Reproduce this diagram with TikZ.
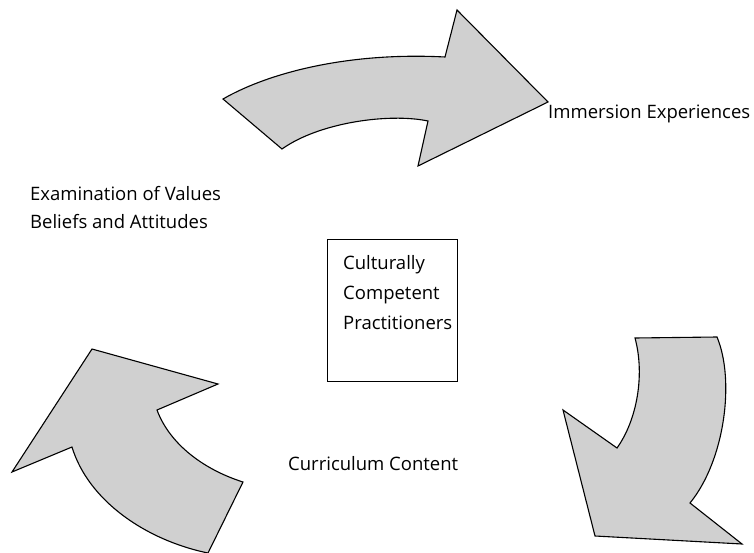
\documentclass[tikz,border=0pt]{standalone}
\usepackage{fontspec}
\setmainfont{Open Sans}
\begin{document}
\begin{tikzpicture}[x=1pt,y=-1pt,
  bend arrow/.style={draw=black, line width=1.1pt, line join=miter, fill={rgb,255:red,208;green,208;blue,208}},
  label text/.style={anchor=west, inner sep=0pt, font=\fontsize{18.5}{30}\selectfont},
  frame box/.style={draw=black, line width=0.8pt, anchor=north west, inner sep=0pt,
    minimum width=130pt, minimum height=142pt}]
\useasboundingbox (0,0) rectangle (754,553);

% curved arrow along the top, pointing right
\draw[bend arrow] (223,99) .. controls (270,72) and (350,52) .. (445,57)
  -- (457,10) -- (548,102) -- (418,166) -- (428,121)
  .. controls (390,113) and (320,122) .. (282,149) -- cycle;

% curved arrow on the right, pointing down
\draw[bend arrow] (635,338) -- (717,337)
  .. controls (735,380) and (725,460) .. (690,503)
  -- (742,544) -- (595,536) -- (563,410) -- (617,448)
  .. controls (637,420) and (645,375) .. (635,338) -- cycle;

% curved arrow on the lower left, pointing up
\draw[bend arrow] (92,349) -- (218,384) -- (157,410)
  .. controls (170,445) and (205,470) .. (243,482)
  -- (208,553)
  .. controls (145,540) and (88,500) .. (72,447)
  -- (12,472) -- cycle;

% labels
\node[label text] (immersion) at (548,114) {Immersion Experiences};
\node[label text] (values) at (30,194) {Examination of Values};
\node[label text] (beliefs) at (30,222) {Beliefs and Attitudes};
\node[label text] (curriculum) at (288,464) {Curriculum Content};

% central box
\node[frame box] (box) at (327,239) {};
\node[label text, align=left] (boxtext) at (343,293)
  {Culturally\\Competent\\Practitioners};
\end{tikzpicture}
\end{document}
